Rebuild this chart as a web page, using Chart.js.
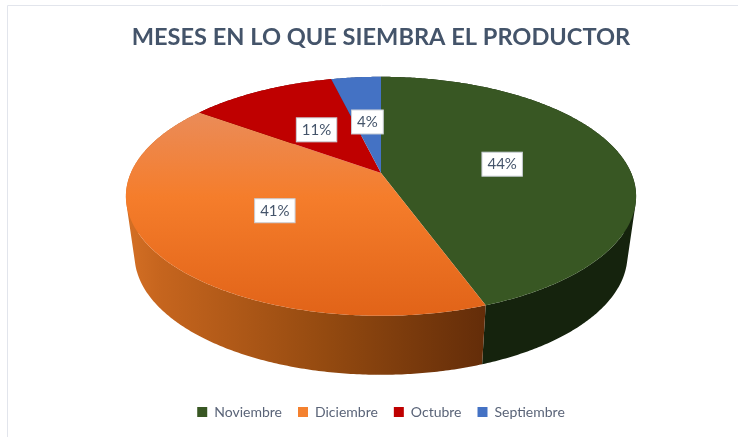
<!DOCTYPE html>
<html lang="es">
<head>
<meta charset="utf-8">
<title>Meses de siembra</title>
<script src="https://cdn.jsdelivr.net/npm/chart.js@4"></script>
<style>
  html, body { margin: 0; background: #fff; overflow: hidden; }
  #wrap { position: absolute; left: 7px; top: 5px; width: 748px; height: 432px; }
</style>
</head>
<body>
<div id="wrap"><canvas id="pie" width="748" height="432"></canvas></div>
<script>
/* Datos */
const categories = ['Noviembre', 'Diciembre', 'Octubre', 'Septiembre'];
const values = [44.45, 40.55, 11.2, 3.8];
const sliceColors = ['#385723', '#f4812f', '#bf0000', '#4472c4'];

const TEXT_COLOR = '#44546a';

/* Proyeccion en perspectiva del disco */
const RX = 250.2;
const APEX_Y = 168;
const TILT_A = 82.2;
const TILT_C = -0.195;
const DEPTH = 59;
const BOTTOM_SCALE = 0.966;

function project(cx, u, v) {
  const d = 1 + TILT_C * v;
  return { x: cx + RX * u / d, y: (APEX_Y + TILT_A * v) / d };
}

function rimPoints(arc) {
  const n = Math.max(2, Math.ceil((arc.endAngle - arc.startAngle) / 0.01));
  const pts = [];
  for (let i = 0; i <= n; i++) {
    const a = arc.startAngle + (arc.endAngle - arc.startAngle) * i / n;
    pts.push(project(arc.x, Math.cos(a), Math.sin(a)));
  }
  return pts;
}

function sideFill(ctx, index, cx) {
  if (index === 1) {
    const g = ctx.createLinearGradient(cx - 250, 0, cx + 103, 0);
    g.addColorStop(0, '#d26e24');
    g.addColorStop(0.08, '#c6651e');
    g.addColorStop(0.55, '#944a10');
    g.addColorStop(1, '#642d09');
    return g;
  }
  return ['#15230d', null, '#6e0000', '#284477'][index];
}

function topFill(ctx, index) {
  if (index === 1) {
    const g = ctx.createLinearGradient(0, 105, 0, 312);
    g.addColorStop(0, '#ea8c5a');
    g.addColorStop(0.42, '#f57d2b');
    g.addColorStop(1, '#e16318');
    return g;
  }
  return sliceColors[index];
}

/* Dibuja las porciones de Chart.js como disco 3D */
const pie3d = {
  id: 'pie3d',
  beforeDraw(chart) {
    const ctx = chart.ctx;
    ctx.save();
    ctx.strokeStyle = '#e2e5ec';
    ctx.lineWidth = 1;
    ctx.beginPath();
    ctx.moveTo(0.5, chart.height);
    ctx.lineTo(0.5, 0.5);
    ctx.lineTo(chart.width, 0.5);
    ctx.stroke();
    ctx.restore();
  },
  beforeDatasetsDraw(chart) {
    const ctx = chart.ctx;
    const arcs = chart.getDatasetMeta(0).data;
    ctx.save();

    /* Paredes laterales: todas las tiras en un solo trazado, mismo sentido */
    arcs.forEach((arc, i) => {
      const top = rimPoints(arc);
      ctx.beginPath();
      for (let k = 1; k < top.length; k++) {
        const a = top[k - 1];
        const b = top[k];
        const quad = [
          a,
          b,
          { x: arc.x + (b.x - arc.x) * BOTTOM_SCALE, y: b.y + DEPTH },
          { x: arc.x + (a.x - arc.x) * BOTTOM_SCALE, y: a.y + DEPTH },
        ];
        let area = 0;
        quad.forEach((p, j) => {
          const q = quad[(j + 1) % 4];
          area += p.x * q.y - q.x * p.y;
        });
        if (area < 0) quad.reverse();
        quad.forEach((p, j) => (j ? ctx.lineTo(p.x, p.y) : ctx.moveTo(p.x, p.y)));
        ctx.closePath();
      }
      ctx.fillStyle = sideFill(ctx, i, arc.x);
      ctx.fill();
    });

    /* Cara superior */
    arcs.forEach((arc, i) => {
      const apex = project(arc.x, 0, 0);
      ctx.beginPath();
      ctx.moveTo(apex.x, apex.y);
      rimPoints(arc).forEach(p => ctx.lineTo(p.x, p.y));
      ctx.closePath();
      ctx.fillStyle = topFill(ctx, i);
      ctx.fill();
    });

    /* Etiquetas de porcentaje */
    const total = values.reduce((a, b) => a + b, 0);
    ctx.font = '15px Lato';
    ctx.textAlign = 'center';
    ctx.textBaseline = 'middle';
    arcs.forEach((arc, i) => {
      const mid = (arc.startAngle + arc.endAngle) / 2;
      const c = project(arc.x, 0.5 * Math.cos(mid), 0.5 * Math.sin(mid));
      const txt = Math.round(values[i] / total * 100) + '%';
      const w = ctx.measureText(txt).width + 11;
      const y = c.y + 1;
      ctx.fillStyle = '#fff';
      ctx.strokeStyle = '#c9ced6';
      ctx.lineWidth = 1;
      ctx.fillRect(c.x - w / 2, y - 12, w, 24);
      ctx.strokeRect(c.x - w / 2, y - 12, w, 24);
      ctx.fillStyle = TEXT_COLOR;
      ctx.fillText(txt, c.x, y);
    });

    ctx.restore();
    return false;
  },
};

new Chart(document.getElementById('pie'), {
  type: 'pie',
  data: {
    labels: categories,
    datasets: [{ data: values, backgroundColor: sliceColors, borderWidth: 0 }],
  },
  options: {
    responsive: false,
    animation: false,
    layout: { padding: { bottom: 8 } },
    plugins: {
      tooltip: { enabled: false },
      title: {
        display: true,
        text: 'MESES EN LO QUE SIEMBRA EL PRODUCTOR',
        color: TEXT_COLOR,
        font: { family: 'Lato', size: 23.6, weight: 'bold' },
        padding: { top: 18, bottom: 10 },
      },
      legend: {
        position: 'bottom',
        labels: {
          color: '#5a6478',
          font: { family: 'Lato', size: 14 },
          boxWidth: 10,
          boxHeight: 10,
          padding: 16,
        },
      },
    },
  },
  plugins: [pie3d],
});
</script>
</body>
</html>
